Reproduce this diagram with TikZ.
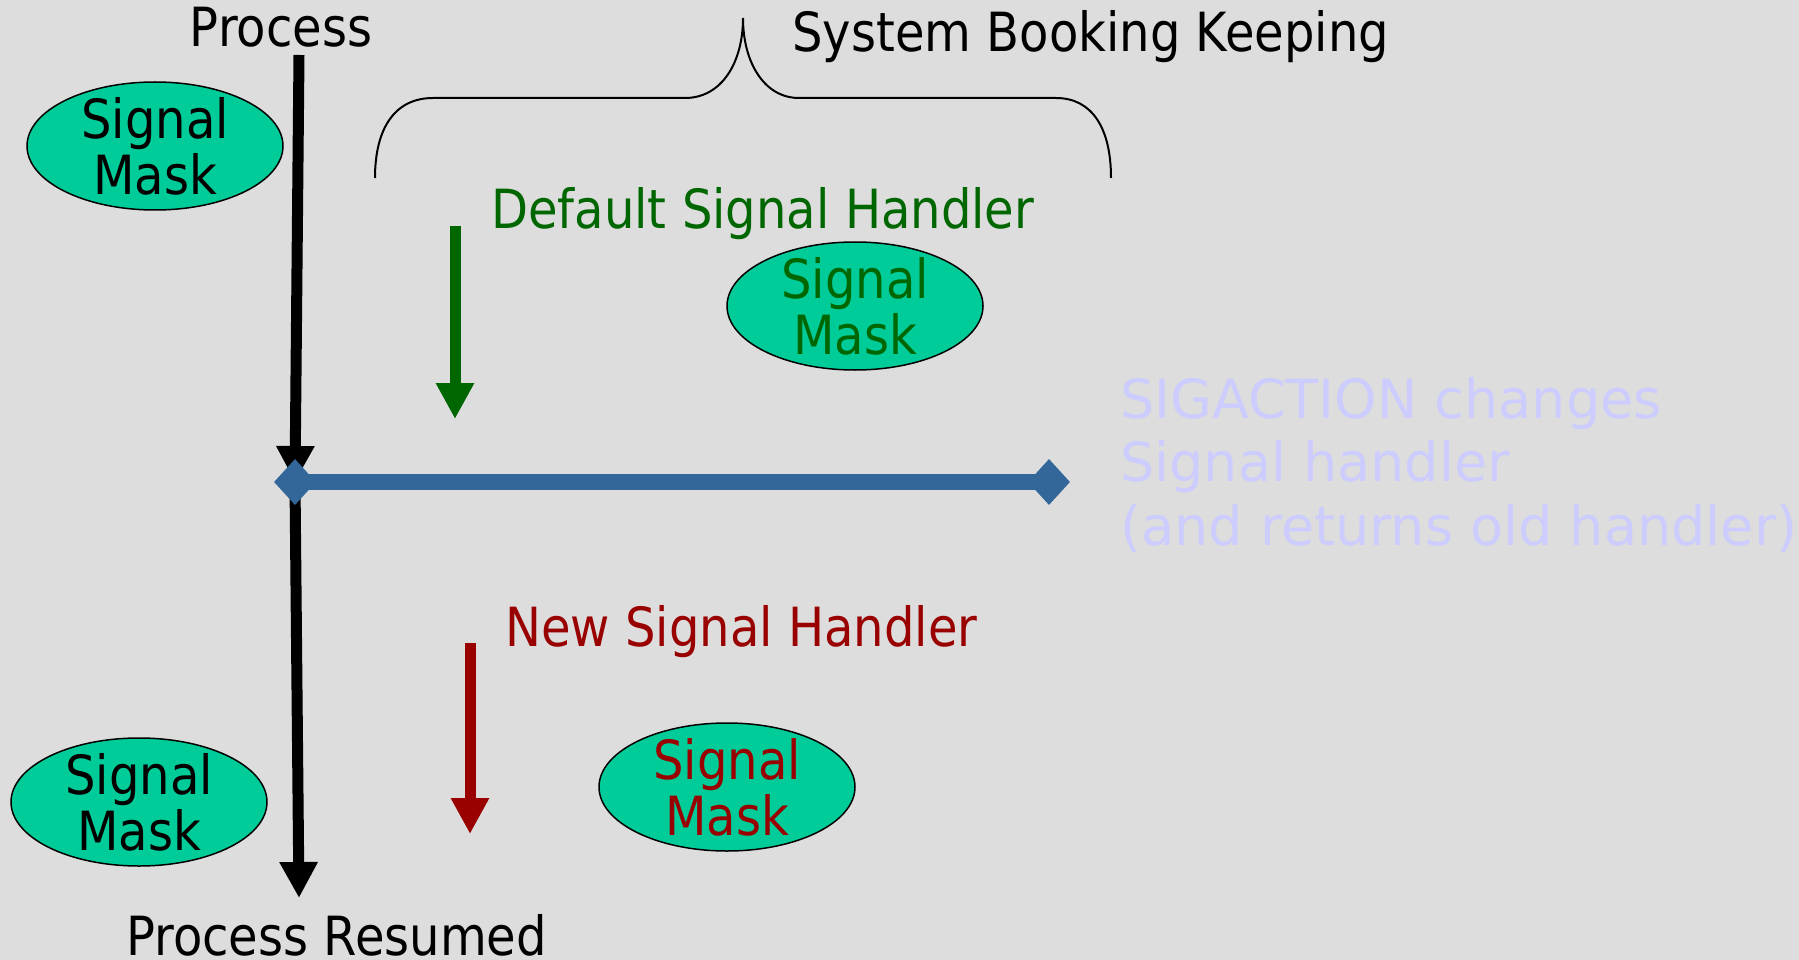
\documentclass[tikz,border=0pt]{standalone}
\usepackage{fontspec}
\usetikzlibrary{arrows.meta,shapes.geometric}
\newfontfamily\lblfont{DejaVu Sans}[FakeStretch=0.89]
\newfontfamily\notefont{DejaVu Sans}
\definecolor{bg}{HTML}{DDDDDD}
\definecolor{maskfill}{HTML}{00CC99}
\definecolor{okgreen}{HTML}{006600}
\definecolor{newred}{HTML}{990000}
\definecolor{sigblue}{HTML}{336699}
\definecolor{notelav}{HTML}{CCCCFF}
\begin{document}
\begin{tikzpicture}[x=1pt,y=-1pt,
  lbl/.style={inner sep=0pt, anchor=base west, font=\lblfont\fontsize{54}{56}\selectfont},
  maskshape/.style={ellipse, draw=black, line width=1.5pt, fill=maskfill,
    minimum width=256pt, minimum height=128pt, inner sep=0pt},
  masktext/.style={inner sep=0pt, align=center, font=\lblfont\fontsize{54}{56}\selectfont},
  flow/.style={line width=11pt, -{Triangle[length=36pt,width=36pt]}},
  junction/.style={diamond, fill=sigblue, inner sep=0pt, minimum width=42pt, minimum height=46pt},
  notetext/.style={inner sep=0pt, anchor=west, align=left, text=notelav,
    font=\notefont\fontsize{54}{63.5}\selectfont}]
\useasboundingbox[fill=bg] (0,0) rectangle (1799,960);

% titles
\node[lbl, anchor=base] (proc) at (281,47) {Process};
\node[lbl] (sbk) at (792,52) {System Booking Keeping};
\node[lbl, anchor=base west] (resumed) at (126,955) {Process Resumed};

% brace over the bookkeeping area
\draw[line width=2pt] (375,178) .. controls (375,128) and (395,98) .. (433,98)
  -- (685,98) .. controls (722,98) and (743,62) .. (743,18)
  .. controls (743,62) and (764,98) .. (799,98)
  -- (1056,98) .. controls (1092,98) and (1111,128) .. (1111,178);

% process timeline
\coordinate (ptop) at (299,55);
\coordinate (jL) at (295,482);
\coordinate (jR) at (1049,482);
\coordinate (pend) at (299,898);
\draw[flow] (ptop) -- (jL);
\draw[flow] (jL) -- (pend);

% sigaction call
\draw[line width=16pt, sigblue] (jL) -- (jR);
\node[junction] (dL) at (jL) {};
\node[junction] (dR) at (jR) {};
\node[notetext] (note) at (1120,465) {SIGACTION changes\\Signal handler\\(and returns old handler)};

% default handler
\node[lbl, text=okgreen] (defh) at (491,229) {Default Signal Handler};
\coordinate (gtop) at (455,226);
\coordinate (gend) at (455,419);
\draw[flow, okgreen] (gtop) -- (gend);

% new handler
\node[lbl, text=newred] (newh) at (505,646) {New Signal Handler};
\coordinate (rtop) at (470,643);
\coordinate (rend) at (470,834);
\draw[flow, newred] (rtop) -- (rend);

% signal masks
\node[maskshape] (m1) at (155,146) {};
\node[masktext] at (m1) {Signal\\Mask};
\node[maskshape] (m2) at (855,306) {};
\node[masktext, text=okgreen] at (m2) {Signal\\Mask};
\node[maskshape] (m3) at (139,802) {};
\node[masktext] at (m3) {Signal\\Mask};
\node[maskshape] (m4) at (727,787) {};
\node[masktext, text=newred] at (m4) {Signal\\Mask};
\end{tikzpicture}
\end{document}
